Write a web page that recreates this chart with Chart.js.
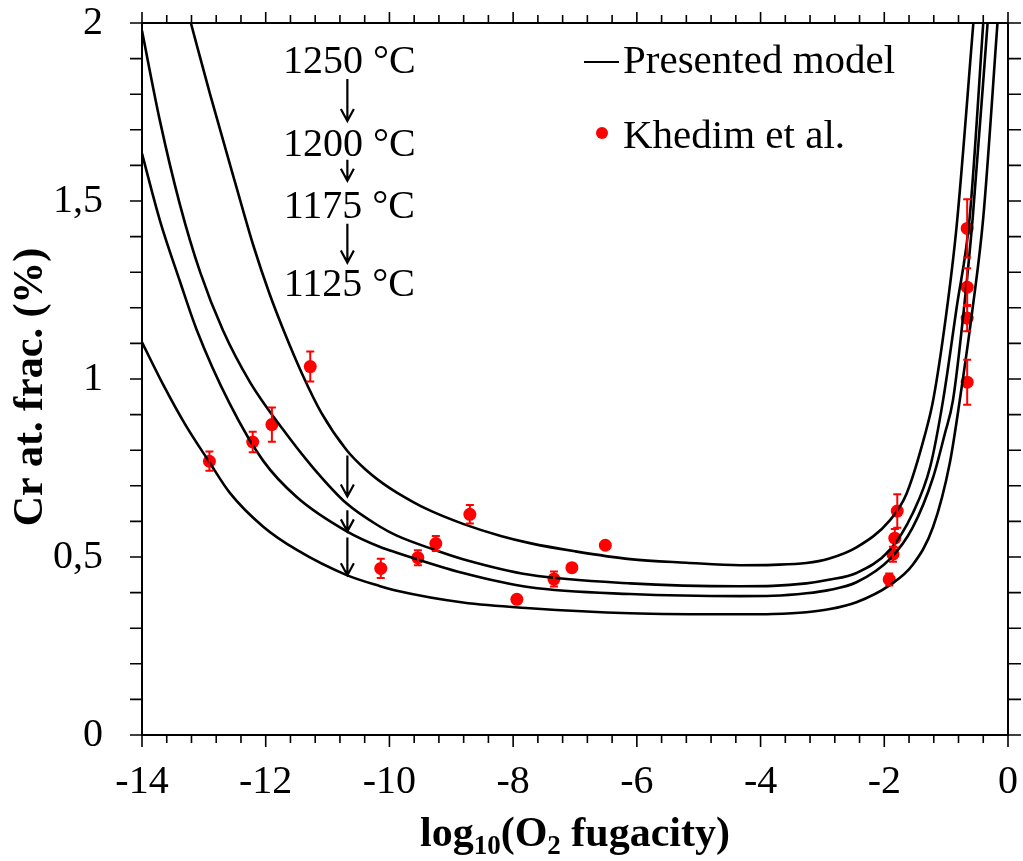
<!DOCTYPE html>
<html>
<head>
<meta charset="utf-8">
<script src="https://cdn.jsdelivr.net/npm/chart.js@4.4.0/dist/chart.umd.min.js"></script>
<style>
  html, body { margin: 0; padding: 0; background: #fff; }
  #chart { display: block; }
</style>
</head>
<body>
<canvas id="chart" width="1023" height="861"></canvas>
<script>
// Presented model, one curve per temperature
const curve1250X = [-13.21, -12.90, -12.47, -12.20, -11.94, -11.70, -11.40, -11.10, -10.69, -10.40, -10.10, -9.88, -9.40, -8.81, -8.20, -7.73, -7.00, -6.11, -5.20, -4.33, -3.80, -3.26, -2.90, -2.45, -1.91, -1.64, -1.34, -1.21, -1.00, -0.83, -0.56];
const curve1250Y = [2.0, 1.800, 1.537, 1.375, 1.240, 1.132, 1.010, 0.905, 0.800, 0.748, 0.706, 0.681, 0.635, 0.593, 0.559, 0.539, 0.516, 0.494, 0.484, 0.477, 0.478, 0.483, 0.495, 0.527, 0.603, 0.678, 0.845, 0.940, 1.180, 1.430, 2.0];

const curve1200X = [-14, -13.71, -13.39, -13.06, -12.69, -12.25, -11.72, -11.24, -10.69, -10.15, -9.88, -9.30, -8.81, -7.73, -6.11, -4.33, -3.80, -3.26, -2.90, -2.45, -1.91, -1.54, -1.26, -1.05, -0.83, -0.62, -0.40];
const curve1200Y = [1.978, 1.725, 1.492, 1.300, 1.136, 0.990, 0.858, 0.752, 0.650, 0.585, 0.560, 0.522, 0.494, 0.450, 0.426, 0.418, 0.419, 0.426, 0.436, 0.455, 0.520, 0.623, 0.752, 0.940, 1.201, 1.453, 2.0];

const curve1175X = [-14, -13.71, -13.39, -13.12, -12.58, -12.04, -11.49, -10.69, -10.15, -9.88, -8.81, -7.73, -6.11, -4.33, -3.80, -3.26, -2.90, -2.45, -1.91, -1.54, -1.21, -1.02, -0.89, -0.71, -0.57, -0.33];
const curve1175Y = [1.633, 1.445, 1.276, 1.140, 0.930, 0.770, 0.667, 0.572, 0.528, 0.512, 0.455, 0.415, 0.396, 0.390, 0.391, 0.398, 0.407, 0.429, 0.494, 0.583, 0.724, 0.847, 0.940, 1.201, 1.453, 2.0];

const curve1125X = [-14, -13.66, -13.30, -12.92, -12.58, -12.04, -11.49, -10.69, -10.15, -9.88, -8.81, -7.73, -6.11, -4.33, -3.80, -3.26, -2.90, -2.45, -1.91, -1.54, -1.21, -0.94, -0.78, -0.57, -0.40, -0.17];
const curve1125Y = [1.103, 0.985, 0.872, 0.769, 0.680, 0.585, 0.519, 0.449, 0.418, 0.405, 0.372, 0.356, 0.342, 0.339, 0.340, 0.345, 0.353, 0.373, 0.421, 0.478, 0.585, 0.765, 0.940, 1.201, 1.453, 2.0];

// Khedim et al. measurements
const khedimX = [-12.91, -12.21, -11.90, -11.28, -10.14, -9.54, -9.25, -8.70, -7.94, -7.34, -7.05, -6.51, -1.79, -1.83, -1.86, -1.92, -0.66, -0.66, -0.66, -0.66];
const khedimY = [0.769, 0.823, 0.872, 1.035, 0.468, 0.498, 0.538, 0.620, 0.381, 0.438, 0.470, 0.533, 0.629, 0.553, 0.508, 0.437, 1.423, 1.258, 1.171, 0.991];
const khedimErr = [0.027, 0.029, 0.048, 0.042, 0.027, 0.021, 0.021, 0.026, 0, 0.021, 0, 0, 0.047, 0.026, 0.021, 0.017, 0.082, 0.053, 0.037, 0.063];

// temperature annotation (labels and arrows)
const tempLabels = ['1250 °C', '1200 °C', '1175 °C', '1125 °C'];
const tempLabelY = [1.86, 1.627, 1.453, 1.234];
const tempArrowY = [[1.843, 1.725], [1.616, 1.557], [1.436, 1.327]];
const modelArrowY = [[0.785, 0.670], [0.631, 0.572], [0.555, 0.449]];
const arrowX = -10.68;

const legendLabels = ['Presented model', 'Khedim et al.'];

const serif = '"Liberation Serif", "Times New Roman", serif';
Chart.defaults.font.family = serif;
Chart.defaults.color = '#000';

function toPoints(xs, ys) {
    return xs.map((x, i) => ({ x: x, y: ys[i] }));
}

function modelSet(xs, ys) {
    return {
        data: toPoints(xs, ys),
        showLine: true,
        borderColor: '#000',
        borderWidth: 2.6,
        pointRadius: 0,
        cubicInterpolationMode: 'monotone',
        fill: false
    };
}

function drawArrow(ctx, px, y1, y2) {
    ctx.beginPath();
    ctx.moveTo(px, y1);
    ctx.lineTo(px, y2);
    ctx.moveTo(px - 6.5, y2 - 12);
    ctx.lineTo(px, y2);
    ctx.lineTo(px + 6.5, y2 - 12);
    ctx.stroke();
}

const decorations = {
    id: 'decorations',
    afterDatasetsDraw(chart) {
        const { ctx, chartArea: a, scales: { x, y } } = chart;
        ctx.save();

        // error bars
        ctx.strokeStyle = '#ff0000';
        ctx.lineWidth = 2;
        khedimX.forEach((v, i) => {
            if (!khedimErr[i]) return;
            const px = x.getPixelForValue(v);
            const top = y.getPixelForValue(khedimY[i] + khedimErr[i]);
            const bot = y.getPixelForValue(khedimY[i] - khedimErr[i]);
            ctx.beginPath();
            ctx.moveTo(px, top); ctx.lineTo(px, bot);
            ctx.moveTo(px - 4, top); ctx.lineTo(px + 4, top);
            ctx.moveTo(px - 4, bot); ctx.lineTo(px + 4, bot);
            ctx.stroke();
        });

        // arrows between the model curves
        ctx.strokeStyle = '#000';
        ctx.lineWidth = 2.2;
        const ax = x.getPixelForValue(arrowX);
        modelArrowY.forEach(p => drawArrow(ctx, ax, y.getPixelForValue(p[0]), y.getPixelForValue(p[1])));
        tempArrowY.forEach(p => drawArrow(ctx, ax, y.getPixelForValue(p[0]), y.getPixelForValue(p[1])));

        // temperature labels
        ctx.fillStyle = '#000';
        ctx.font = '40px ' + serif;
        ctx.textAlign = 'center';
        ctx.textBaseline = 'alphabetic';
        tempLabels.forEach((t, i) => ctx.fillText(t, ax + 2, y.getPixelForValue(tempLabelY[i])));

        // legend
        ctx.font = '41px ' + serif;
        ctx.textAlign = 'left';
        const lx = a.left + 442;
        ctx.lineWidth = 2.2;
        ctx.beginPath();
        ctx.moveTo(lx, a.top + 39);
        ctx.lineTo(lx + 35, a.top + 39);
        ctx.stroke();
        ctx.fillText(legendLabels[0], lx + 39, a.top + 50);
        ctx.fillStyle = '#ff0000';
        ctx.beginPath();
        ctx.arc(lx + 18, a.top + 110, 6, 0, Math.PI * 2);
        ctx.fill();
        ctx.fillStyle = '#000';
        ctx.fillText(legendLabels[1], lx + 39, a.top + 125);

        ctx.restore();
    },
    afterDraw(chart) {
        const { ctx, chartArea: a, scales: { x, y } } = chart;
        ctx.save();
        ctx.strokeStyle = '#000';

        // frame
        ctx.lineWidth = 2;
        ctx.strokeRect(a.left, a.top, a.right - a.left, a.bottom - a.top);

        // ticks on all four sides, pointing outwards
        ctx.lineWidth = 1.6;
        ctx.beginPath();
        for (let i = 0; i <= 35; i++) {
            const px = x.getPixelForValue(-14 + i * 0.4);
            const major = i % 5 === 0;
            ctx.moveTo(px, a.bottom); ctx.lineTo(px, a.bottom + (major ? 12 : 8));
            ctx.moveTo(px, a.top); ctx.lineTo(px, a.top - (major ? 11 : 8));
        }
        for (let i = 0; i <= 20; i++) {
            const py = y.getPixelForValue(i * 0.1);
            ctx.moveTo(a.left, py); ctx.lineTo(a.left - 12, py);
            ctx.moveTo(a.right, py); ctx.lineTo(a.right + 13, py);
        }
        ctx.stroke();

        // axis titles
        ctx.fillStyle = '#000';
        const big = 'bold 42px ' + serif;
        const sub = 'bold 27px ' + serif;
        const parts = [['log', big, 0], ['10', sub, 8], ['(O', big, 0], ['2', sub, 8], [' fugacity)', big, 0]];
        let w = 0;
        parts.forEach(p => { ctx.font = p[1]; w += ctx.measureText(p[0]).width; });
        let cx = (a.left + a.right) / 2 - w / 2;
        const base = 846;
        ctx.textAlign = 'left';
        ctx.textBaseline = 'alphabetic';
        parts.forEach(p => {
            ctx.font = p[1];
            ctx.fillText(p[0], cx, base + p[2]);
            cx += ctx.measureText(p[0]).width;
        });

        ctx.save();
        ctx.translate(42, 387);
        ctx.rotate(-Math.PI / 2);
        ctx.font = big;
        ctx.textAlign = 'center';
        ctx.fillText('Cr at. frac. (%)', 0, 0);
        ctx.restore();

        ctx.restore();
    }
};

new Chart(document.getElementById('chart'), {
    type: 'scatter',
    data: {
        datasets: [
            modelSet(curve1250X, curve1250Y),
            modelSet(curve1200X, curve1200Y),
            modelSet(curve1175X, curve1175Y),
            modelSet(curve1125X, curve1125Y),
            {
                data: toPoints(khedimX, khedimY),
                pointRadius: 6.5,
                pointBackgroundColor: '#ff0000',
                pointBorderWidth: 0,
                showLine: false
            }
        ]
    },
    options: {
        responsive: false,
        animation: false,
        layout: { autoPadding: false, padding: { left: 0, right: 15, top: 23, bottom: 0 } },
        plugins: { legend: { display: false }, tooltip: { enabled: false } },
        scales: {
            x: {
                type: 'linear',
                min: -14,
                max: 0,
                grid: { display: false, drawTicks: false },
                border: { display: false },
                ticks: {
                    stepSize: 2,
                    padding: 27,
                    font: { size: 40, lineHeight: 1 },
                    color: '#000'
                },
                afterFit: s => { s.height = 126; s.paddingLeft = 0; s.paddingRight = 0; }
            },
            y: {
                type: 'linear',
                min: 0,
                max: 2,
                grid: { display: false, drawTicks: false },
                border: { display: false },
                ticks: {
                    stepSize: 0.5,
                    padding: 39,
                    font: { size: 40, lineHeight: 1 },
                    color: '#000',
                    callback: v => String(v).replace('.', ',')
                },
                afterFit: s => { s.width = 142; s.paddingTop = 0; s.paddingBottom = 0; }
            }
        }
    },
    plugins: [decorations]
});
</script>
</body>
</html>
